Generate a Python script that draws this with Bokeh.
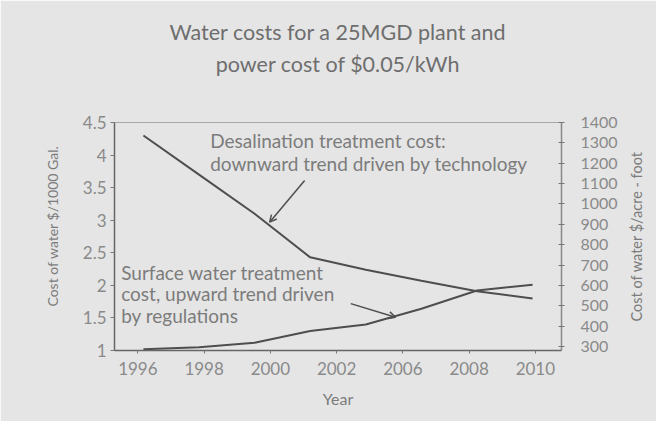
import numpy as np
from bokeh.plotting import figure
from bokeh.models import Range1d, LinearAxis, FixedTicker, Label, Arrow, OpenHead, Title
from bokeh.embed import file_html
from bokeh.resources import INLINE

# ---- data ----
years = [1996, 1998, 2000, 2002, 2004, 2006, 2008, 2010]
desal_cost = [4.30, 3.70, 3.10, 2.43, 2.24, 2.07, 1.91, 1.80]      # $/1000 gal
surface_cost = [1.02, 1.05, 1.12, 1.30, 1.40, 1.64, 1.92, 2.01]    # $/1000 gal
x_tick_labels = ["1996", "1998", "2000", "2002", "2006", "2008", "2010"]
left_ticks = [1, 1.5, 2, 2.5, 3, 3.5, 4, 4.5]
left_tick_labels = ["1", "1.5", "2", "2.5", "3", "3.5", "4", "4.5"]
right_ticks = [300, 400, 500, 600, 700, 800, 900, 1000, 1100, 1200, 1300, 1400]

title_lines = ["Water costs for a 25MGD plant and", "power cost of $0.05/kWh"]
left_label = "Cost of water $/1000 Gal."
right_label = "Cost of water $/acre - foot"
x_label = "Year"
desal_note = ["Desalination treatment cost:", "downward trend driven by technology"]
surface_note = ["Surface water treatment", "cost, upward trend driven", "by regulations"]

BG = "#e5e5e5"
TXT = "#7c7c7c"
LINE = "#4e4e4e"
FONT = "Lato"

p = figure(width=656, height=421,
           x_range=Range1d(1994.96, 2011.04), y_range=Range1d(1, 4.5),
           output_backend="svg", toolbar_location=None,
           background_fill_color=BG, border_fill_color=BG,
           min_border_left=114, min_border_right=92,
           min_border_top=122, min_border_bottom=71)
p.extra_y_ranges = {"acre": Range1d(280, 1400)}
p.grid.visible = False
p.outline_line_color = "#a8a8a8"
p.outline_line_width = 1

# title: a spacer next to the plot, then line 2, then line 1 (outermost)
p.add_layout(Title(text=" ", text_font_size="1px", standoff=37.6), "above")
p.add_layout(Title(text=title_lines[1], align="center", text_font=FONT,
                   text_font_size="21.5px", text_font_style="normal",
                   text_color="#6e6e6e", standoff=8.7), "above")
p.add_layout(Title(text=title_lines[0], align="center", text_font=FONT,
                   text_font_size="21.5px", text_font_style="normal",
                   text_color="#6e6e6e", standoff=0), "above")

# x axis
xt = list(np.linspace(1995.8, 2010.1, len(x_tick_labels)))
xa = p.xaxis[0]
xa.ticker = FixedTicker(ticks=xt)
xa.major_label_overrides = {t: l for t, l in zip(xt, x_tick_labels)}
xa.axis_label = x_label

# left axis
ya = p.yaxis[0]
ya.ticker = FixedTicker(ticks=left_ticks)
ya.major_label_overrides = {t: l for t, l in zip(left_ticks, left_tick_labels)}
ya.axis_label = "\u2003\u2003" + left_label   # leading space lifts the label slightly

# right axis
ra = LinearAxis(y_range_name="acre", ticker=FixedTicker(ticks=right_ticks))
p.add_layout(ra, "right")

for ax in (xa, ya, ra):
    ax.axis_line_color = "#666666"
    ax.axis_line_width = 1.5
    ax.major_tick_line_color = "#777777"
    ax.minor_tick_line_color = None
    ax.major_label_text_font = FONT
    ax.major_label_text_color = "#8a8a8a"
    ax.axis_label_text_font = FONT
    ax.axis_label_text_font_style = "normal"
    ax.axis_label_text_color = "#7c7c7c"

xa.major_tick_in = 0
xa.major_tick_out = 3
xa.major_label_text_font_size = "17px"
xa.major_label_standoff = 8
xa.axis_label_text_font_size = "16px"
xa.axis_label_standoff = 11

ya.major_tick_in = 0
ya.major_tick_out = 4
ya.major_label_text_font_size = "17px"
ya.major_label_standoff = 4
ya.axis_label_text_font_size = "14px"
ya.axis_label_standoff = 19

ra.major_tick_in = 3
ra.major_tick_out = 3
ra.major_label_text_font_size = "16px"
ra.major_label_standoff = 16
ra.axis_line_color = "#888888"
ra.axis_label_text_font_size = "14.5px"
ra.axis_label_standoff = 16
if "axis_label_align" in ra.properties():
    # text reads bottom-to-top and starts a little above the bottom of the axis
    ra.axis_label_orientation = np.pi / 2
    ra.axis_label_align = "start"
    ra.axis_label = "\u2003\u2003\u2002" + right_label
else:
    ra.axis_label = right_label

# series
p.line(years, desal_cost, line_color=LINE, line_width=2)
p.line(years, surface_cost, line_color=LINE, line_width=2)

# annotations
for i, txt in enumerate(desal_note):
    p.add_layout(Label(x=1998.4, y=4.23 - 0.36 * i, text=txt, text_font=FONT,
                       text_font_size="19px", text_color=TXT, text_baseline="middle"))
for i, txt in enumerate(surface_note):
    p.add_layout(Label(x=1995.2, y=2.2 - 0.33 * i, text=txt, text_font=FONT,
                       text_font_size="19px", text_color=TXT, text_baseline="middle"))

p.add_layout(Arrow(x_start=2001.8, y_start=3.61, x_end=2000.54, y_end=2.97,
                   line_color=LINE, line_width=1.5,
                   end=OpenHead(size=7, line_color=LINE, line_width=1.5)))
p.add_layout(Arrow(x_start=2003.46, y_start=1.72, x_end=2005.07, y_end=1.51,
                   line_color=LINE, line_width=1.5,
                   end=OpenHead(size=7, line_color=LINE, line_width=1.5)))

open("out.html", "w").write(file_html(p, INLINE))
